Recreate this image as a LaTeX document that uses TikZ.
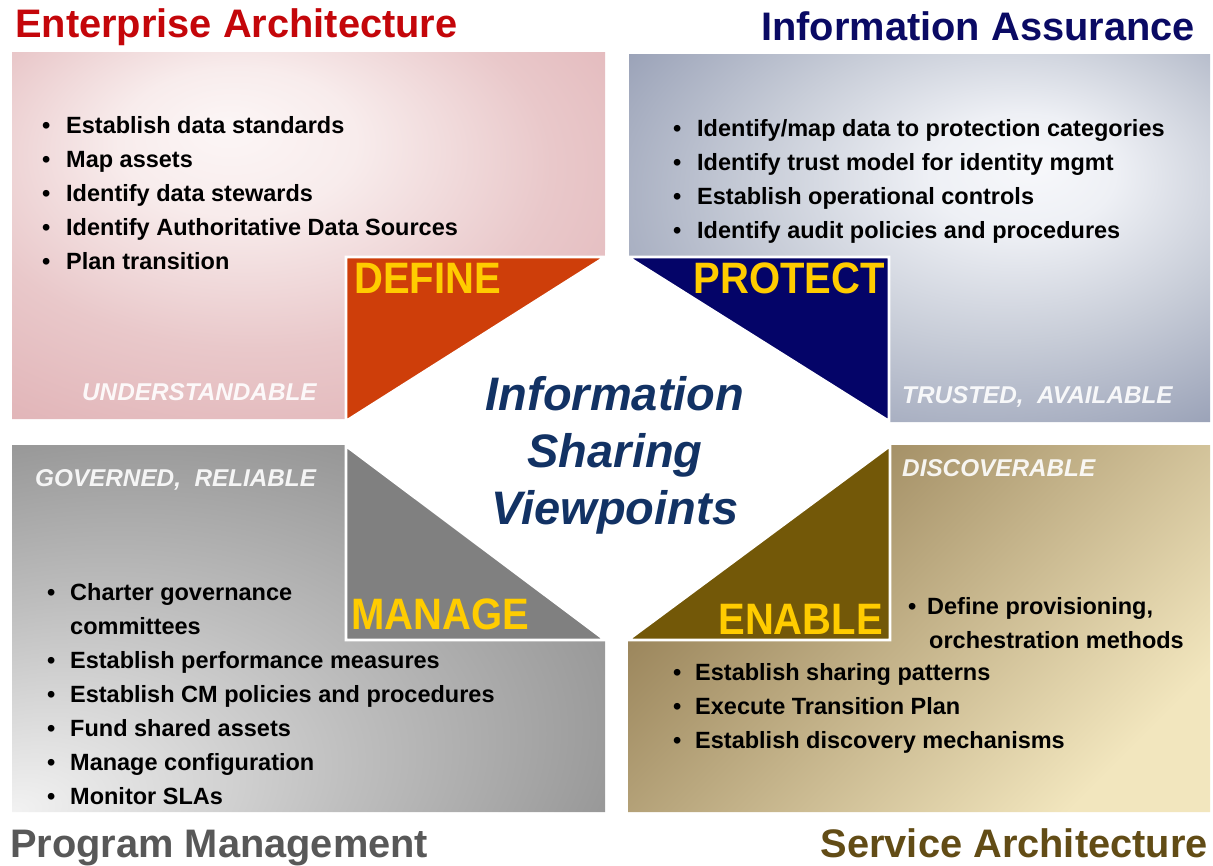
\documentclass[tikz,border=0pt]{standalone}
\usepackage{fontspec}
\setmainfont{Liberation Sans}
\definecolor{eared}{RGB}{196,6,10}
\definecolor{ianavy}{RGB}{10,10,100}
\definecolor{pmgray}{RGB}{88,88,88}
\definecolor{sabrown}{RGB}{98,76,22}
\definecolor{defred}{RGB}{206,62,10}
\definecolor{protnavy}{RGB}{4,4,104}
\definecolor{mangray}{RGB}{128,128,128}
\definecolor{enabrown}{RGB}{115,88,8}
\definecolor{gold}{RGB}{255,204,0}
\definecolor{centerblue}{RGB}{18,50,100}
% pink (TL)
\definecolor{tla}{RGB}{252,246,246}
\definecolor{tlb}{RGB}{248,236,236}
\definecolor{tlc}{RGB}{233,200,202}
\definecolor{tld}{RGB}{222,172,176}
\definecolor{tle}{RGB}{214,158,164}
% steel (TR)
\definecolor{tra}{RGB}{247,248,251}
\definecolor{trb}{RGB}{238,240,245}
\definecolor{trc}{RGB}{200,205,216}
\definecolor{trd}{RGB}{152,160,182}
\definecolor{tre}{RGB}{120,128,158}
% gray (BL)
\definecolor{bla}{RGB}{242,242,242}
\definecolor{blb}{RGB}{190,190,190}
\definecolor{blc}{RGB}{134,134,134}
\definecolor{bld}{RGB}{112,112,112}
\definecolor{ble}{RGB}{100,100,100}
% tan (BR)
\definecolor{brtop}{RGB}{148,126,84}
\definecolor{brmid}{RGB}{196,178,132}
\definecolor{brbot}{RGB}{242,230,190}
\pgfdeclareradialshading{tlshade}{\pgfpoint{-7bp}{15bp}}{color(0bp)=(tla); color(10bp)=(tlb); color(25bp)=(tlc); color(45bp)=(tld); color(55bp)=(tle); color(70bp)=(tle)}
\pgfdeclareradialshading{trshade}{\pgfpoint{10bp}{10bp}}{color(0bp)=(tra); color(8bp)=(trb); color(21bp)=(trc); color(37bp)=(trd); color(49bp)=(tre); color(70bp)=(tre)}
\pgfdeclareradialshading{blshade}{\pgfpoint{-25bp}{-25bp}}{color(0bp)=(bla); color(22bp)=(blb); color(48bp)=(blc); color(57bp)=(bld); color(72bp)=(ble); color(80bp)=(ble)}
\newcommand{\bl}[2][24pt]{\makebox[#1][l]{•}#2}
\tikzset{
  ttl/.style={font=\fontsize{39.8}{42}\selectfont\bfseries, inner sep=0pt},
  bul/.style={font=\fontsize{23.5}{34}\selectfont\bfseries, align=left, inner sep=0pt, anchor=north west, text=black},
  qual/.style={font=\fontsize{24.3}{27}\selectfont\bfseries\itshape, text=white, text opacity=0.9, inner sep=0pt, anchor=base west},
  verb/.style={font=\fontsize{40}{44}\selectfont\bfseries, text=gold, inner sep=0pt},
  tri/.style={draw=white, line width=2.6pt, line join=miter},
  ctr/.style={font=\fontsize{47}{57}\selectfont\bfseries\itshape, align=center, inner sep=0pt, anchor=north},
}
\begin{document}
\begin{tikzpicture}[x=1pt,y=-1pt]
\useasboundingbox (0,0) rectangle (1213,865);
\fill[white] (0,0) rectangle (1213,865);
% panels
\shade[shading=tlshade] (12,52) -- (605,52) -- (605,257) -- (346,257) -- (346,419) -- (12,419) -- cycle;
\shade[shading=trshade] (629,54) -- (1210,54) -- (1210,422) -- (889,422) -- (889,257) -- (629,257) -- cycle;
\shade[shading=blshade] (12,445) -- (346,445) -- (346,640) -- (605,640) -- (605,812) -- (12,812) -- cycle;
\shade[top color=brtop, middle color=brmid, bottom color=brbot, shading angle=45] (890,445) -- (1210,445) -- (1210,812) -- (628,812) -- (628,640) -- (890,640) -- cycle;
% triangles
\filldraw[fill=defred, tri] (346,257) -- (605,257) -- (346,421) -- cycle;
\filldraw[fill=protnavy, tri] (628,257) -- (889,257) -- (889,421) -- cycle;
\filldraw[fill=mangray, tri] (346,446) -- (346,640) -- (605,640) -- cycle;
\filldraw[fill=enabrown, tri] (890,446) -- (890,640) -- (628,640) -- cycle;
\fill[white] (605,250) -- (628,250) -- (628,260) -- (605,260) -- cycle;
% titles
\node[ttl, text=eared, anchor=base west] (tea) at (15,37) {Enterprise Architecture};
\node[ttl, text=ianavy, anchor=base east] (tia) at (1195,40) {Information Assurance};
\node[ttl, text=pmgray, anchor=base west] (tpm) at (10,857) {Program Management};
\node[ttl, text=sabrown, anchor=base east] (tsa) at (1208,857) {Service Architecture};
% verbs
\node[verb, anchor=base west] (vdef) at (354,293) {\scalebox{1}[1.1]{DEFINE}};
\node[verb, anchor=base east] (vpro) at (885,293) {\scalebox{1}[1.1]{PROTECT}};
\node[verb, anchor=base west] (vman) at (351,629) {\scalebox{1}[1.1]{MANAGE}};
\node[verb, anchor=base east] (vena) at (883,634) {\scalebox{1}[1.1]{ENABLE}};
% qualities
\node[qual] (qund) at (82,400) {UNDERSTANDABLE};
\node[qual] (qtru) at (902,403) {TRUSTED,\ \ AVAILABLE};
\node[qual] (qgov) at (35,486) {GOVERNED,\ \ RELIABLE};
\node[qual] (qdis) at (902,476) {DISCOVERABLE};
% bullet lists
\node[bul] (lea) at (42,109.2) {\strut\bl{Establish data standards}\\\bl{Map assets}\\\bl{Identify data stewards}\\\bl{Identify Authoritative Data Sources}\\\bl{Plan transition}};
\node[bul] (lia) at (673,112.2) {\strut\bl{Identify/map data to protection categories}\\\bl{Identify trust model for identity mgmt}\\\bl{Establish operational controls}\\\bl{Identify audit policies and procedures}};
\node[bul] (lpm) at (47,576.2) {\strut\bl[23pt]{Charter governance}\\\hspace*{23pt}committees\\\bl[23pt]{Establish performance measures}\\\bl[23pt]{Establish CM policies and procedures}\\\bl[23pt]{Fund shared assets}\\\bl[23pt]{Manage configuration}\\\bl[23pt]{Monitor SLAs}};
\node[bul] (lsa1) at (908,590.2) {\strut\bl[19pt]{Define provisioning,}\\\hspace*{21pt}orchestration methods};
\node[bul] (lsa2) at (673,656.2) {\strut\bl[22pt]{Establish sharing patterns}\\\bl[22pt]{Execute Transition Plan}\\\bl[22pt]{Establish discovery mechanisms}};
% centre text
\node[ctr, text=centerblue] (ctext) at (615,370.1) {\strut Information\\Sharing\\Viewpoints};
\end{tikzpicture}
\end{document}
